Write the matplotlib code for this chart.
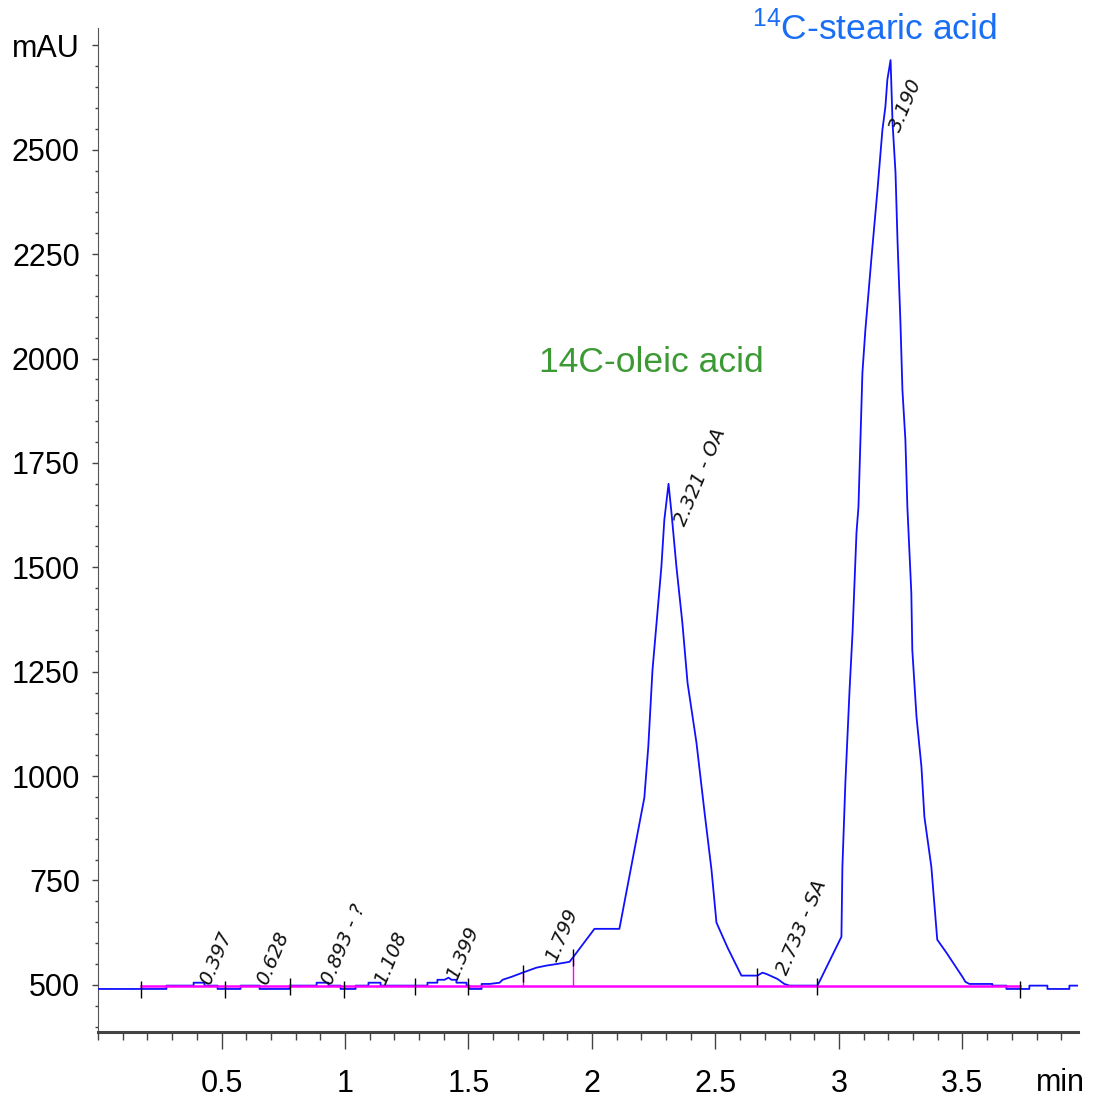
import numpy as np
import matplotlib.pyplot as plt
from matplotlib.ticker import MultipleLocator, FixedLocator

plt.rcParams['font.family'] = ['Liberation Sans', 'DejaVu Sans']
plt.rcParams['mathtext.fontset'] = 'custom'
plt.rcParams['mathtext.rm'] = 'Liberation Sans'

##chromatogram trace, time in min and signal in mAU
t = [0.0, 0.277, 0.277, 0.387, 0.387, 0.431, 0.431, 0.484, 0.484, 0.577,
     0.577, 0.654, 0.654, 0.775, 0.775, 0.885, 0.885, 0.933, 0.933, 0.982,
     0.982, 1.043, 1.043, 1.095, 1.095, 1.144, 1.144, 1.334, 1.334, 1.374,
     1.374, 1.403, 1.419, 1.431, 1.451, 1.451, 1.492, 1.492, 1.504, 1.504,
     1.553, 1.553, 1.585, 1.626, 1.638, 1.674, 1.719, 1.775, 1.816, 1.860,
     1.909, 1.925, 2.010, 2.107, 2.111, 2.212, 2.228, 2.245, 2.265, 2.281,
     2.293, 2.310, 2.322, 2.342, 2.366, 2.387, 2.423, 2.456, 2.484, 2.504,
     2.549, 2.605, 2.670, 2.690, 2.706, 2.751, 2.779, 2.800, 2.913, 3.010,
     3.014, 3.026, 3.043, 3.055, 3.071, 3.079, 3.095, 3.107, 3.132, 3.156,
     3.176, 3.188, 3.196, 3.209, 3.217, 3.229, 3.237, 3.249, 3.257, 3.269,
     3.277, 3.293, 3.297, 3.314, 3.334, 3.346, 3.374, 3.398, 3.435, 3.500,
     3.512, 3.528, 3.621, 3.621, 3.678, 3.678, 3.771, 3.771, 3.844, 3.844,
     3.933, 3.933, 3.968]
mau = [490, 490, 498, 498, 505, 505, 498, 498, 490, 490,
       498, 498, 490, 490, 498, 498, 505, 505, 498, 498,
       490, 490, 498, 498, 505, 505, 498, 498, 505, 505,
       512, 512, 517, 512, 512, 505, 505, 498, 498, 490,
       490, 502, 502, 505, 512, 519, 529, 541, 546, 550,
       555, 567, 634, 634, 634, 948, 1070, 1254, 1391, 1501,
       1614, 1700, 1630, 1501, 1367, 1223, 1080, 912, 775, 649,
       589, 522, 522, 529, 526, 514, 502, 498, 498, 615,
       783, 984, 1207, 1343, 1583, 1645, 1966, 2069, 2244, 2404,
       2548, 2603, 2668, 2715, 2565, 2445, 2284, 2086, 1925, 1805,
       1645, 1439, 1302, 1142, 1022, 902, 783, 608, 577, 519,
       507, 502, 502, 498, 498, 490, 490, 498, 498, 490,
       490, 498, 498]

##integration baseline and peak boundaries
base_start = 0.176
base_end = 3.734
base_level = 498
drops = [1.719, 1.925, 2.670]
marks = [0.176, 0.516, 0.779, 0.994, 1.285, 1.500, 1.719, 1.925, 2.670, 2.913, 3.734]

##peak labels
peak_rt = [0.397, 0.628, 0.893, 1.108, 1.399, 1.799, 2.321, 2.733, 3.190]
peak_names = ['0.397', '0.628', '0.893 - ?', '1.108', '1.399', '1.799',
              '2.321 - OA', '2.733 - SA', '3.190']
peak_y = [512, 512, 512, 512, 524, 567, 1610, 536, 2555]

y_ticks = [500, 750, 1000, 1250, 1500, 1750, 2000, 2250, 2500, 2750]
y_labels = ['500', '750', '1000', '1250', '1500', '1750', '2000', '2250', '2500', 'mAU']
x_ticks = [0.5, 1, 1.5, 2, 2.5, 3, 3.5]
x_labels = ['0.5', '1', '1.5', '2', '2.5', '3', '3.5']

fig = plt.figure(figsize=(10.94, 10.99), dpi=100)
ax = fig.add_axes([0.0896, 0.061, 0.8958, 0.9136])

ax.plot(t, mau, color='#1010ff', lw=1.3, zorder=3)
ax.plot([base_start, base_end], [base_level, base_level], color='#ff00ff', lw=1.8, zorder=4)
tops = np.interp(drops, t, mau)
ax.vlines(drops, base_level, tops, color='#ff00ff', lw=1.0, zorder=4)
mid = np.interp(marks, t, mau)
ax.vlines(marks, mid - 22, mid + 18, color='black', lw=1.0, zorder=5)

for rt, name, yy in zip(peak_rt, peak_names, peak_y):
    ax.text(rt, yy, name, rotation=67, rotation_mode='anchor', ha='left', va='top',
            fontsize=14, style='italic', family=['DejaVu Sans'], color='#111111', zorder=6)

ax.text(1.787, 1968, '14C-oleic acid', color='#3c9a34', fontsize=25.5, ha='left', va='baseline')
ax.text(2.646, 2763, r'$\mathregular{^{14}}$C-stearic acid', color='#1a6ef5', fontsize=25.5,
        ha='left', va='baseline')

ax.set_xlim(0, 3.968)
ax.set_ylim(387, 2792)
ax.spines['top'].set_visible(False)
ax.spines['right'].set_visible(False)
ax.spines['left'].set_color('#555555')
ax.spines['bottom'].set_color('#444444')
ax.spines['bottom'].set_linewidth(2.2)

ax.yaxis.set_major_locator(FixedLocator(y_ticks))
ax.set_yticklabels(y_labels)
ax.yaxis.set_minor_locator(MultipleLocator(50))
ax.xaxis.set_major_locator(FixedLocator(x_ticks))
ax.set_xticklabels(x_labels)
ax.xaxis.set_minor_locator(MultipleLocator(0.1))

ax.tick_params(axis='y', which='major', length=4, width=1, color='#444444', labelsize=22, pad=9)
ax.tick_params(axis='y', which='minor', length=2, width=1, color='#444444')
ax.tick_params(axis='x', which='major', length=12, width=1, color='#444444', labelsize=22, pad=15)
ax.tick_params(axis='x', which='minor', length=6, width=1, color='#444444')

fig.text(1060 / 1094, 1 - 1083 / 1099, 'min', fontsize=22, ha='center', va='center')

plt.savefig('out.png')
